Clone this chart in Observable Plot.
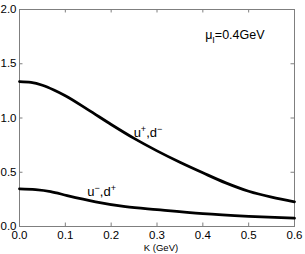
<!DOCTYPE html>
<html>
<head>
<meta charset="utf-8">
<script src="https://cdn.jsdelivr.net/npm/d3@7"></script>
<script src="https://cdn.jsdelivr.net/npm/@observablehq/plot@0.6"></script>
<style>
  html, body { margin: 0; padding: 0; background: #fff; }
  svg { display: block; }
</style>
</head>
<body>
<div id="chart"></div>
<script>
// Upper curve: u+, d-
const kUpper = [0, 0.025, 0.05, 0.075, 0.1, 0.15, 0.2, 0.25, 0.3, 0.35, 0.4, 0.45, 0.5, 0.55, 0.6];
const vUpper = [1.335, 1.328, 1.302, 1.258, 1.205, 1.075, 0.94, 0.812, 0.697, 0.592, 0.495, 0.402, 0.325, 0.27, 0.228];
// Lower curve: u-, d+
const kLower = [0, 0.035, 0.068, 0.104, 0.166, 0.231, 0.3, 0.4, 0.5, 0.6];
const vLower = [0.347, 0.34, 0.322, 0.285, 0.228, 0.183, 0.155, 0.118, 0.094, 0.077];

const xTicks = [0, 0.1, 0.2, 0.3, 0.4, 0.5, 0.6];
const yTicks = [0, 0.5, 1, 1.5, 2];
const xInner = [0.1, 0.2, 0.3, 0.4, 0.5];
const yInner = [0.5, 1, 1.5];
const xLabel = "K (GeV)";

const upper = kUpper.map((k, i) => ({k, v: vUpper[i]}));
const lower = kLower.map((k, i) => ({k, v: vLower[i]}));

const gray = "#7f7f7f";
const font = "'Liberation Sans', Arial, Helvetica, sans-serif";

const chart = Plot.plot({
  width: 305,
  height: 254,
  marginLeft: 19,
  marginRight: 11,
  marginTop: 9,
  marginBottom: 28,
  style: {fontFamily: font, background: "#fff", color: "#000"},
  x: {domain: [0, 0.6]},
  y: {domain: [0, 2]},
  marks: [
    Plot.frame({stroke: gray}),
    // inward ticks on all four sides
    Plot.ruleX(xInner, {x: d => d, y1: 0, y2: 0.032, stroke: gray}),
    Plot.ruleX(xInner, {x: d => d, y1: 2, y2: 1.968, stroke: gray}),
    Plot.ruleY(yInner, {y: d => d, x1: 0, x2: 0.0076, stroke: gray}),
    Plot.ruleY(yInner, {y: d => d, x1: 0.6, x2: 0.5924, stroke: gray}),
    Plot.axisX(xTicks, {tickSize: 0, tickPadding: 4, fontSize: 11.5, label: null, fill: "#000"}),
    Plot.axisY(yTicks, {tickSize: 0, tickPadding: 3, fontSize: 11.5, label: null, fill: "#000"}),
    Plot.line(upper, {x: "k", y: "v", stroke: "#000", strokeWidth: 2.8, curve: "monotone-x"}),
    Plot.line(lower, {x: "k", y: "v", stroke: "#000", strokeWidth: 2.8, curve: "monotone-x"}),
    Plot.text([xLabel], {frameAnchor: "bottom", lineAnchor: "middle", text: d => d, dy: 21, dx: 4, fontSize: 9.5, fill: "#000"}),
    Plot.text(["mu"], {x: 0.405, y: 1.768, text: d => d, textAnchor: "start", fontSize: 12.5, fill: "#000", className: "lbl-mu"}),
    Plot.text(["up"], {x: 0.249, y: 0.861, text: d => d, textAnchor: "start", fontSize: 13, fill: "#000", className: "lbl-up"}),
    Plot.text(["lo"], {x: 0.148, y: 0.318, text: d => d, textAnchor: "start", fontSize: 13, fill: "#000", className: "lbl-lo"})
  ]
});

function rich(cls, parts, sz) {
  const t = chart.querySelector("." + cls + " text");
  if (!t) return;
  t.textContent = "";
  let shift = 0;
  const ns = "http://www.w3.org/2000/svg";
  for (const p of parts) {
    const s = document.createElementNS(ns, "tspan");
    const target = p.sup ? -5 : p.sub ? 4 : 0;
    if (target !== shift) s.setAttribute("dy", (target - shift) + "px");
    shift = target;
    if (p.sup || p.sub) s.setAttribute("font-size", sz + "px");
    s.textContent = p.t;
    t.appendChild(s);
  }
}

document.getElementById("chart").appendChild(chart);

rich("lbl-mu", [{t: "μ"}, {t: "I", sub: true}, {t: "=0.4GeV"}], 9);
rich("lbl-up", [{t: "u"}, {t: "+", sup: true}, {t: ",d"}, {t: "−", sup: true}], 9);
rich("lbl-lo", [{t: "u"}, {t: "−", sup: true}, {t: ",d"}, {t: "+", sup: true}], 9);
</script>
</body>
</html>
